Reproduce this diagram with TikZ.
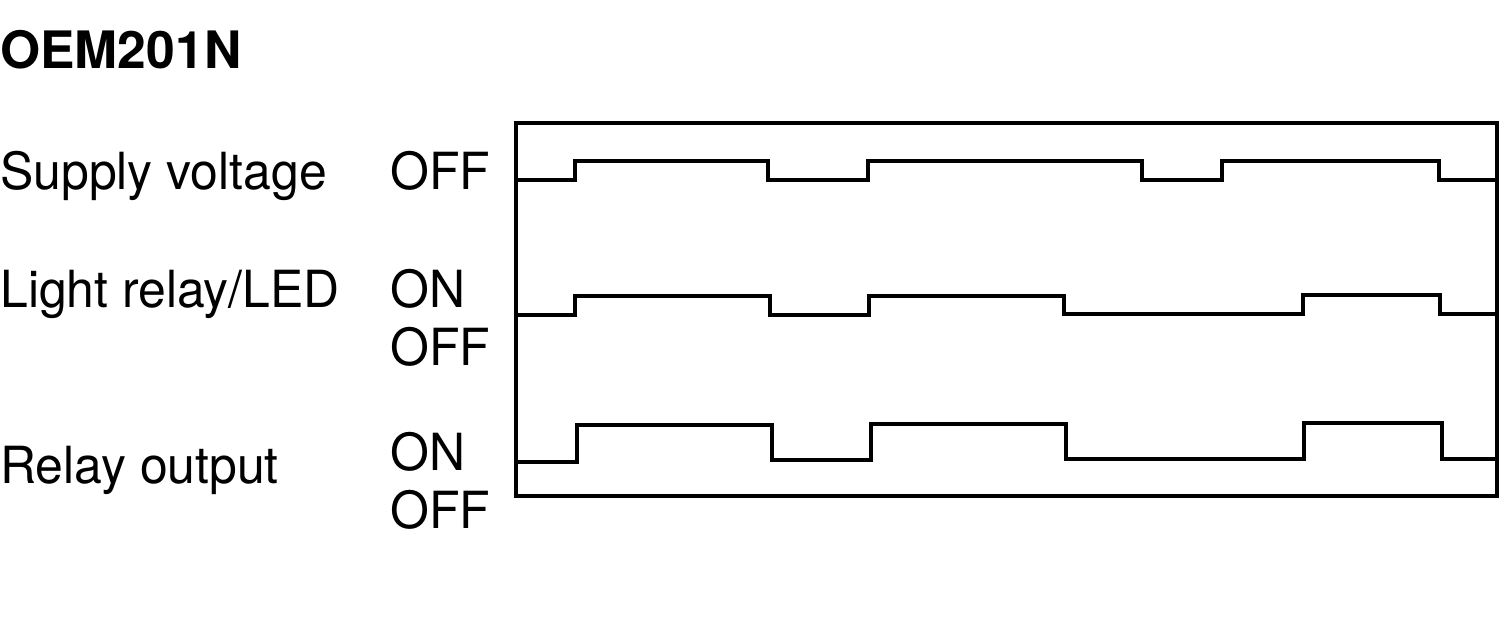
\documentclass[tikz,border=0pt]{standalone}
\usepackage{fontspec}
\setmainfont{TeX Gyre Heros}[FakeStretch=0.975]
\newfontfamily\ttlfont{TeX Gyre Heros}
\begin{document}
\begin{tikzpicture}[x=0.5bp,y=-0.5bp,
  lbl/.style={anchor=base west,inner sep=0pt,font=\fontsize{25.6bp}{30bp}\selectfont},
  ttl/.style={anchor=base west,inner sep=0pt,font=\ttlfont\fontsize{25.8bp}{30bp}\selectfont\bfseries},
  wave/.style={line width=2.1bp,line join=miter,line cap=butt},
  frame/.style={line width=2.1bp}]
\useasboundingbox (0,0) rectangle (1500,620);
\node[ttl] (title) at (0,69) {OEM201N};
\node[lbl] (sv) at (0,190) {Supply voltage};
\node[lbl] (svoff) at (390,190) {OFF};
\node[lbl] (lr) at (0,307) {Light relay/LED};
\node[lbl] (lron) at (390,307) {ON};
\node[lbl] (lroff) at (390,366) {OFF};
\node[lbl] (ro) at (0,483) {Relay output};
\node[lbl] (roon) at (390,470) {ON};
\node[lbl] (rooff) at (390,528) {OFF};
\draw[frame] (516,123) rectangle (1497,496);
\draw[wave] (516,180) -- (575,180) -- (575,161) -- (768,161) -- (768,180) -- (868,180) -- (868,161) -- (1142,161) -- (1142,180) -- (1222,180) -- (1222,161) -- (1439,161) -- (1439,180) -- (1497,180);
\draw[wave] (516,315) -- (575,315) -- (575,296) -- (770,296) -- (770,315) -- (869,315) -- (869,296) -- (1064,296) -- (1064,314) -- (1303,314) -- (1303,295) -- (1440,295) -- (1440,314) -- (1497,314);
\draw[wave] (516,462) -- (577,462) -- (577,425) -- (772,425) -- (772,460) -- (871,460) -- (871,424) -- (1066,424) -- (1066,459) -- (1304,459) -- (1304,423) -- (1442,423) -- (1442,459) -- (1497,459);
\end{tikzpicture}
\end{document}
